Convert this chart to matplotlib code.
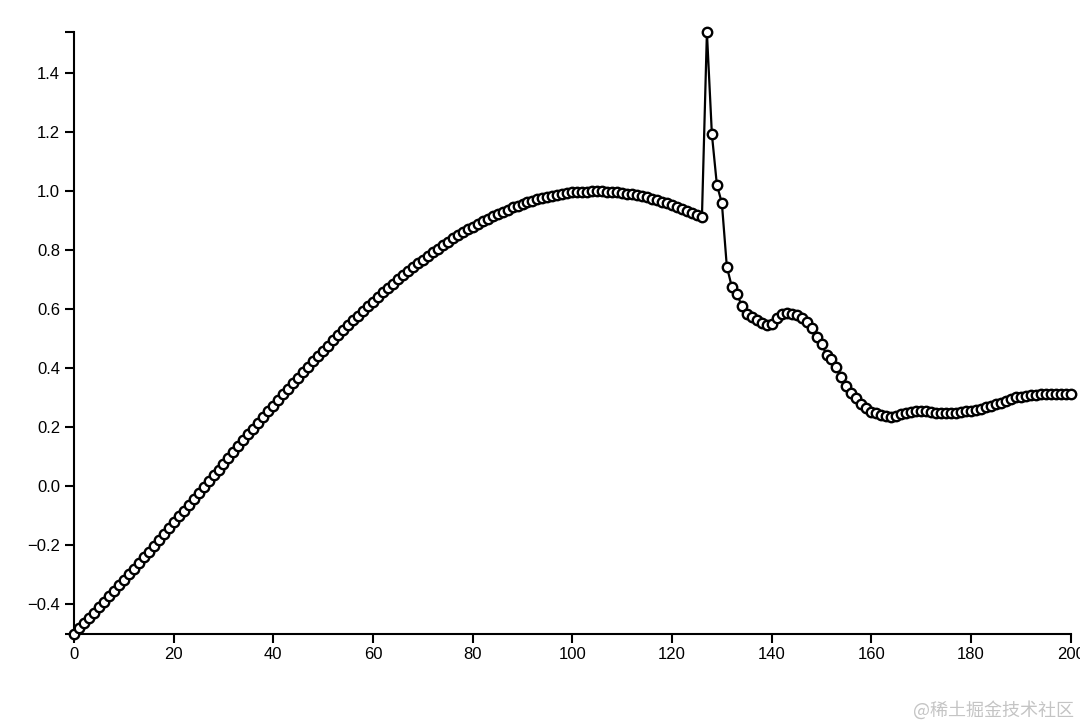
import numpy as np
import matplotlib.pyplot as plt
from matplotlib.ticker import FixedLocator

# values, one per step 0..200
smooth_part = [
    -0.500, -0.483, -0.465, -0.447, -0.429, -0.411, -0.393, -0.374, -0.356, -0.337,
    -0.318, -0.299, -0.280, -0.261, -0.241, -0.222, -0.202, -0.183, -0.163, -0.143,
    -0.123, -0.103, -0.084, -0.064, -0.044, -0.024, -0.004, 0.016, 0.036, 0.056,
    0.076, 0.096, 0.116, 0.136, 0.156, 0.176, 0.195, 0.215, 0.234, 0.254,
    0.273, 0.292, 0.311, 0.330, 0.349, 0.368, 0.386, 0.405, 0.423, 0.441,
    0.459, 0.476, 0.494, 0.511, 0.528, 0.545, 0.562, 0.578, 0.594, 0.610,
    0.626, 0.642, 0.657, 0.672, 0.686, 0.701, 0.715, 0.729, 0.742, 0.756,
    0.768, 0.781, 0.793, 0.805, 0.817, 0.829, 0.840, 0.850, 0.861, 0.871,
    0.880, 0.890, 0.899, 0.907, 0.915, 0.923, 0.931, 0.938, 0.945, 0.951,
    0.957, 0.963, 0.968, 0.973, 0.977, 0.981, 0.985, 0.988, 0.991, 0.994,
    0.996, 0.997, 0.999, 0.999, 1.000, 1.000, 1.000, 0.999, 0.998, 0.996,
    0.994, 0.992, 0.989, 0.986, 0.983, 0.979, 0.975, 0.970, 0.965, 0.960,
    0.954, 0.948, 0.941, 0.934, 0.927, 0.919, 0.911,
]
spike_part = [
    1.539, 1.193, 1.022, 0.960, 0.744, 0.676, 0.652, 0.612, 0.583, 0.575,
    0.563, 0.554, 0.546, 0.550, 0.571, 0.584, 0.586, 0.584, 0.580, 0.571,
    0.558, 0.535, 0.507,
]
tail_part = [
    0.482, 0.446, 0.431, 0.403, 0.371, 0.340, 0.315, 0.298, 0.278, 0.264,
    0.252, 0.247, 0.241, 0.238, 0.235, 0.237, 0.243, 0.249, 0.251, 0.255,
    0.255, 0.254, 0.251, 0.249, 0.247, 0.247, 0.247, 0.249, 0.251, 0.253,
    0.255, 0.258, 0.263, 0.267, 0.272, 0.277, 0.283, 0.289, 0.295, 0.301,
    0.303, 0.306, 0.308, 0.310, 0.311, 0.312, 0.313, 0.313, 0.314, 0.314,
    0.314,
]
x_ticks = [0, 20, 40, 60, 80, 100, 120, 140, 160, 180, 200]
y_ticks = [-0.4, -0.2, 0.0, 0.2, 0.4, 0.6, 0.8, 1.0, 1.2, 1.4]

y = np.array(smooth_part + spike_part + tail_part)
x = np.arange(len(y))

plt.rcParams['font.family'] = ['Liberation Sans', 'DejaVu Sans']

fig = plt.figure(figsize=(10.8, 7.28), dpi=100)
ax = fig.add_axes([0.0685, 0.1298, 0.9229, 0.8258])

ax.plot(x, y, color='black', lw=1.6, marker='o', ms=6.8, mfc='white',
        mec='black', mew=1.7, clip_on=False, zorder=3)

ax.set_xlim(0, 200)
ax.set_ylim(-0.5, y.max())

ax.set_xticks(x_ticks)
ax.set_yticks(y_ticks)
ax.set_yticklabels([f'{v:.1f}'.replace('-', '\u2212') for v in y_ticks])
# d3-style outer ticks at the ends of the y domain
ax.yaxis.set_minor_locator(FixedLocator([-0.5, y.max()]))

for side in ['top', 'right']:
    ax.spines[side].set_visible(False)
for side in ['left', 'bottom']:
    ax.spines[side].set_linewidth(1.5)
    ax.spines[side].set_color('black')

ax.tick_params(which='both', direction='out', length=6.5, width=1.5,
               color='black', labelsize=12, pad=3.5, labelcolor='black')

fig.text(0.994, 0.024, '@稀土掘金技术社区', ha='right', va='center',
         fontsize=13, color='#c4c4c4',
         family=['Noto Sans CJK SC', 'DejaVu Sans'])

fig.savefig('out.png', dpi=100)
